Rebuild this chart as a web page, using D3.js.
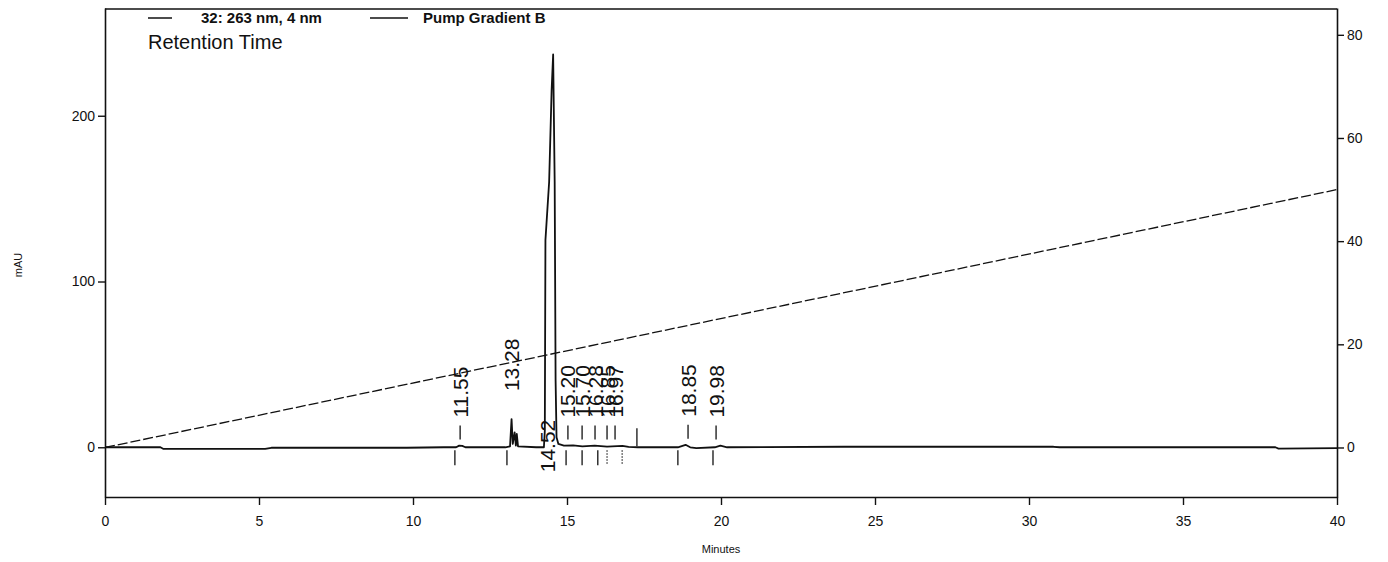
<!DOCTYPE html>
<html>
<head>
<meta charset="utf-8">
<script src="https://cdn.jsdelivr.net/npm/d3@7"></script>
<style>
  body { margin: 0; background: #fff; }
  svg { font-family: "Liberation Sans", Arial, sans-serif; }
</style>
</head>
<body>
<svg id="chart" width="1388" height="562"></svg>
<script>
// chromatogram trace (minutes, mAU)
const traceTime = [0, 1.8, 1.9, 5.2, 5.4, 9.8, 11.0, 11.4, 11.5, 11.6, 11.7, 13.0, 13.15, 13.2, 13.24, 13.3, 13.34, 13.37, 13.41, 14.0,
  14.25, 14.28, 14.3, 14.42, 14.5, 14.55, 14.6, 14.63, 14.66, 14.72, 14.9, 15.2, 15.5, 15.9, 16.3, 16.8, 17.0, 17.3,
  18.6, 18.85, 19.0, 19.2, 19.8, 19.98, 20.2, 24, 30.8, 31, 38, 38.1, 40];
const traceMAU = [0, 0, -1, -1, -0.3, -0.3, 0, 0, 1, 0.8, 0, 0, 0.5, 17, 2, 9, 1, 8, 0.5, 0,
  0, 10, 125, 160, 215, 237, 160, 40, 6, 2, 1, 1.2, 0.6, 1, 0.4, 0.9, 0.3, 0,
  0, 1.5, 0, -0.5, 0, 1, 0, 0.3, 0.3, 0, 0, -0.8, -0.5];

// pump gradient B (%)
const gradTime = [0, 40];
const gradPct = [0, 50];

// retention time labels
const rtLabels = ["11.55", "13.28", "14.52", "15.20", "15.70", "16.28", "16.85", "16.97", "18.85", "19.98"];
const rtLabelAt = [11.53, 13.21, 14.38, 15.03, 15.49, 15.91, 16.30, 16.56, 18.93, 19.84];
const rtLabelMAU = [1, 17, 237, 1, 1, 1, 1, 1, 1.5, 1];

// integration event marks below / above the baseline
const eventsDown = [11.36, 13.05, 14.97, 15.49, 16.0, 18.6, 19.74];
const eventsDotted = [16.3, 16.79];
const eventsUp = [17.27];

const xTicks = [0, 5, 10, 15, 20, 25, 30, 35, 40];
const leftTicks = [0, 100, 200];
const rightTicks = [0, 20, 40, 60, 80];

const svg = d3.select("#chart");
const ink = "#111";

const x = d3.scaleLinear().domain([0, 40]).range([105, 1337]);
const y = d3.scaleLinear().domain([-30, 265]).range([497, 8]);
const y2 = d3.scaleLinear().domain([-9.6, 85.2]).range([497, 8]);

// frame top
svg.append("line").attr("x1", x(0)).attr("x2", x(40)).attr("y1", 9).attr("y2", 9)
  .attr("stroke", ink).attr("stroke-width", 1.4);

// axes
const gx = svg.append("g").attr("transform", `translate(0,${y(-30)})`)
  .call(d3.axisBottom(x).tickValues(xTicks).tickSize(8).tickSizeOuter(0).tickFormat(d3.format("d")));
const gl = svg.append("g").attr("transform", `translate(${x(0)},0)`)
  .call(d3.axisLeft(y).tickValues(leftTicks).tickSize(7).tickSizeOuter(0));
const gr = svg.append("g").attr("transform", `translate(${x(40)},0)`)
  .call(d3.axisRight(y2).tickValues(rightTicks).tickSize(7).tickSizeOuter(0));
[gx, gl, gr].forEach(g => {
  g.select(".domain").attr("stroke", ink).attr("stroke-width", 1.6);
  g.selectAll(".tick line").attr("stroke", ink).attr("stroke-width", 1.4);
  g.selectAll(".tick text").attr("fill", ink).style("font-size", "14px").style("font-family", "Liberation Sans, Arial, sans-serif");
});
gx.selectAll(".tick text").attr("dy", "1.3em");

svg.append("text").attr("x", x(20)).attr("y", 553).attr("text-anchor", "middle")
  .style("font-size", "11px").attr("fill", ink).text("Minutes");
svg.append("text").attr("transform", `translate(22,${y(110)}) rotate(-90)`).attr("text-anchor", "middle")
  .style("font-size", "11px").attr("fill", ink).text("mAU");

// gradient line (dashed in the print)
svg.append("path")
  .datum(gradTime.map((t, i) => [t, gradPct[i]]))
  .attr("fill", "none").attr("stroke", ink).attr("stroke-width", 1.3).attr("stroke-dasharray", "10,3")
  .attr("d", d3.line().x(d => x(d[0])).y(d => y2(d[1])));

// chromatogram
svg.append("path")
  .datum(traceTime.map((t, i) => [t, traceMAU[i]]))
  .attr("fill", "none").attr("stroke", ink).attr("stroke-width", 1.8).attr("stroke-linejoin", "round")
  .attr("d", d3.line().x(d => x(d[0])).y(d => y(d[1])));

// event marks
const y0 = y(0);
svg.selectAll(".ev-down").data(eventsDown).enter().append("line")
  .attr("x1", d => x(d)).attr("x2", d => x(d)).attr("y1", y0 + 3).attr("y2", y0 + 18)
  .attr("stroke", ink).attr("stroke-width", 1.3);
svg.selectAll(".ev-dot").data(eventsDotted).enter().append("line")
  .attr("x1", d => x(d)).attr("x2", d => x(d)).attr("y1", y0 + 3).attr("y2", y0 + 18)
  .attr("stroke", ink).attr("stroke-width", 1.1).attr("stroke-dasharray", "1.5,1.5");
svg.selectAll(".ev-up").data(eventsUp).enter().append("line")
  .attr("x1", d => x(d)).attr("x2", d => x(d)).attr("y1", y0 - 19).attr("y2", y0 - 1)
  .attr("stroke", ink).attr("stroke-width", 1.3);

// retention time labels: above the peak, or below the baseline when it won't fit
const labFont = 21;
rtLabels.forEach((txt, i) => {
  const lx = x(rtLabelAt[i]);
  const top = y(rtLabelMAU[i]);
  const below = top - 30 - 55 < 10;
  const by = below ? y0 + 25 : top - 28;
  svg.append("text")
    .attr("transform", `translate(${lx + labFont * 0.36},${by}) rotate(-90)`)
    .style("font-size", labFont + "px").attr("fill", ink).text(txt);
  if (!below && rtLabelMAU[i] < 5) {
    svg.append("line").attr("x1", lx).attr("x2", lx).attr("y1", top - 20).attr("y2", top - 6)
      .attr("stroke", ink).attr("stroke-width", 1.3);
  }
});

// legend
const legend = [
  { label: "32: 263 nm, 4 nm", x0: 148, x1: 172, tx: 201 },
  { label: "Pump Gradient B", x0: 370, x1: 408, tx: 423 }
];
legend.forEach(d => {
  svg.append("line").attr("x1", d.x0).attr("x2", d.x1).attr("y1", 18).attr("y2", 18)
    .attr("stroke", ink).attr("stroke-width", 1.5);
  svg.append("text").attr("x", d.tx).attr("y", 23).style("font-size", "15px").style("font-weight", "700")
    .attr("fill", ink).text(d.label);
});
svg.append("text").attr("x", 148).attr("y", 49).style("font-size", "20px").attr("fill", ink).text("Retention Time");
</script>
</body>
</html>
